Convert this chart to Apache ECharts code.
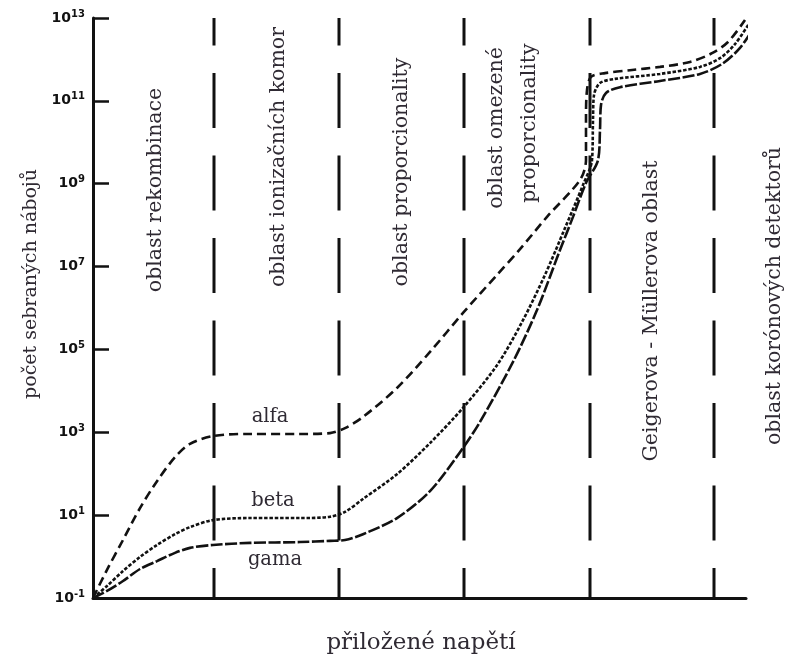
<!DOCTYPE html>
<html><head><meta charset="utf-8">
<script src="https://cdn.jsdelivr.net/npm/echarts@6/dist/echarts.min.js"></script>
<style>html,body{margin:0;padding:0;background:#fff}#c{width:789px;height:655px}</style>
</head><body><div id="c"></div>
<script>
// Y axis: log10 of collected charge count, ticks every 2 decades
const yTickExponents = [-1, 1, 3, 5, 7, 9, 11, 13];
// Region boundaries on the (arbitrary) voltage axis
const regionBoundaries = [121, 246, 371, 497, 621];
const regionNames = [
  'oblast rekombinace',
  'oblast ionizačních komor',
  'oblast proporcionality',
  'oblast omezené',
  'proporcionality',
  'Geigerova - Müllerova oblast',
  'oblast korónových detektorů'
];
const curveNames = ['alfa', 'beta', 'gama'];

const alfaVoltage = [0,14,30,47,64,82,97,120,157,207,237,252,270,304,337,370,404,427,454,487,493,493,494,498,512,537,567,597,619,635,652];
const alfaLog = [-1,-0.32,0.40,1.17,1.82,2.40,2.72,2.91,2.96,2.96,2.98,3.10,3.37,4.07,4.94,5.88,6.80,7.42,8.20,9.09,9.57,10.54,11.26,11.58,11.67,11.74,11.82,11.94,12.15,12.42,12.95];

const betaVoltage = [0,14,30,47,64,82,97,120,157,207,237,252,270,304,337,370,404,429,452,472,490,499,500,501,507,522,567,607,627,642,657];
const betaLog = [-1,-0.71,-0.35,-0.01,0.28,0.54,0.71,0.88,0.93,0.93,0.96,1.08,1.39,1.99,2.74,3.59,4.62,5.66,6.80,7.93,8.97,9.57,10.54,11.14,11.43,11.53,11.65,11.82,12.03,12.37,12.90];

const gamaVoltage = [0,14,30,47,64,82,97,120,157,207,237,252,270,304,337,367,387,420,444,467,480,493,505,507,508,513,527,567,607,629,647,662];
const gamaLog = [-1,-0.83,-0.59,-0.30,-0.11,0.09,0.21,0.28,0.33,0.35,0.38,0.40,0.54,0.93,1.58,2.52,3.25,4.70,5.95,7.40,8.20,9.02,9.57,10.30,10.90,11.19,11.33,11.48,11.65,11.89,12.28,12.81];

const pairs = (xs, ys) => xs.map((x, i) => [x, ys[i]]);
const TXT = '#2f2a33';
const SERIF = 'DejaVu Serif';

const chart = echarts.init(document.getElementById('c'));

const boundarySeries = regionBoundaries.map(x => ({
  type: 'line', silent: true, symbol: 'none', clip: false, z: 1,
  data: [[x, yTickExponents[yTickExponents.length - 1]], [x, yTickExponents[0]]],
  lineStyle: { color: '#111', width: 3, type: [55, 27.5], dashOffset: 27.5 }
}));

const curve = (name, xs, ys, dash) => ({
  name, type: 'line', symbol: 'none', smooth: 0.3, clip: false, z: 3,
  data: pairs(xs, ys),
  lineStyle: { color: '#111', width: 2.6, type: dash }
});

const rot = (text, x, y, size) => ({
  type: 'text', x, y, rotation: Math.PI / 2,
  style: { text, fontFamily: SERIF, fontSize: size, fill: TXT, align: 'center', verticalAlign: 'middle' }
});
const hor = (text, x, y, size) => ({
  type: 'text', x, y,
  style: { text, fontFamily: SERIF, fontSize: size, fill: TXT, align: 'center', verticalAlign: 'middle' }
});

chart.setOption({
  animation: false,
  backgroundColor: '#fff',
  grid: { left: 93, right: 43, top: 18, bottom: 57 },
  xAxis: {
    type: 'value', min: 0, max: 653,
    axisLine: { show: true, onZero: false, lineStyle: { color: '#111', width: 3 } },
    axisTick: { show: false }, axisLabel: { show: false }, splitLine: { show: false }
  },
  yAxis: {
    type: 'value', min: yTickExponents[0], max: yTickExponents[yTickExponents.length - 1], interval: 2,
    axisLine: { show: true, onZero: false, lineStyle: { color: '#111', width: 3 } },
    axisTick: { show: true, inside: true, length: 16, lineStyle: { color: '#111', width: 2.5 } },
    splitLine: { show: false },
    axisLabel: {
      margin: 8,
      formatter: v => '{b|10}{s|' + v + '}',
      rich: {
        b: { fontFamily: 'DejaVu Sans', fontWeight: 'bold', fontSize: 14, color: '#111' },
        s: { fontFamily: 'DejaVu Sans', fontWeight: 'bold', fontSize: 10, color: '#111', padding: [0, 0, 8, 0] }
      }
    }
  },
  series: [
    ...boundarySeries,
    curve(curveNames[0], alfaVoltage, alfaLog, [9, 5]),
    curve(curveNames[1], betaVoltage, betaLog, [3.5, 1.8]),
    curve(curveNames[2], gamaVoltage, gamaLog, [12, 2.5])
  ],
  graphic: [
    rot(regionNames[0], 156, 190, 20.5),
    rot(regionNames[1], 279, 157, 20.5),
    rot(regionNames[2], 402, 172, 20.5),
    rot(regionNames[3], 497, 128, 20.5),
    rot(regionNames[4], 530, 123, 20.5),
    rot(regionNames[5], 652, 311, 20.5),
    rot(regionNames[6], 775, 296, 20.5),
    hor(curveNames[0], 270, 417, 19.5),
    hor(curveNames[1], 273, 501, 19.5),
    hor(curveNames[2], 275, 560, 19.5),
    hor('přiložené napětí', 421, 643, 23),
    rot('počet sebraných nábojů', 31, 284, 19)
  ]
});
</script></body></html>
